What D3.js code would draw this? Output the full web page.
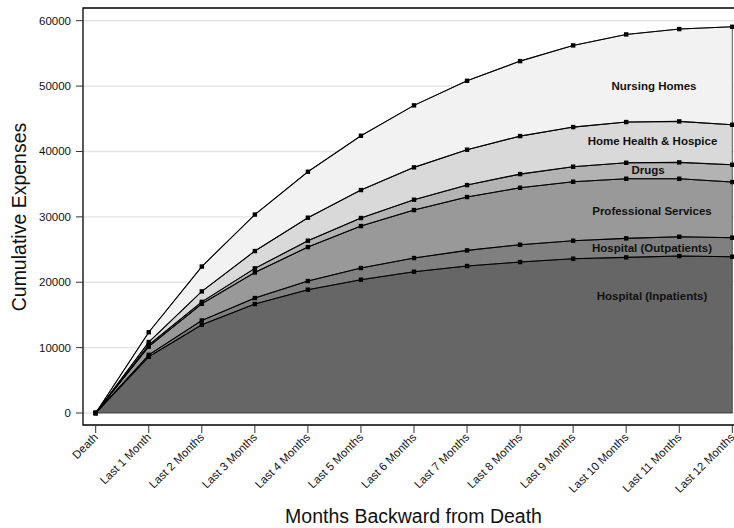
<!DOCTYPE html>
<html>
<head>
<meta charset="utf-8">
<script src="https://cdn.jsdelivr.net/npm/d3@7"></script>
<style>
  html, body { margin: 0; padding: 0; background: #fff; }
  svg { display: block; font-family: "Liberation Sans", Arial, Helvetica, sans-serif; }
</style>
</head>
<body>
<svg id="chart" width="734" height="528"></svg>
<script>
// Months counted backward from death
const months = ["Death", "Last 1 Month", "Last 2 Months", "Last 3 Months", "Last 4 Months",
  "Last 5 Months", "Last 6 Months", "Last 7 Months", "Last 8 Months", "Last 9 Months",
  "Last 10 Months", "Last 11 Months", "Last 12 Months"];

// Expense categories, bottom of the stack first
const categories = ["Hospital (Inpatients)", "Hospital (Outpatients)", "Professional Services",
  "Drugs", "Home Health & Hospice", "Nursing Homes"];

// Cumulative spending per category for each window
const hospitalInpatients  = [0, 8600, 13500, 16670, 18860, 20390, 21610, 22480, 23090, 23600, 23800, 24010, 23900];
const hospitalOutpatients = [0, 300, 650, 910, 1320, 1780, 2090, 2390, 2650, 2750, 2910, 2950, 2910];
const professionalServices = [0, 1250, 2550, 3920, 5200, 6420, 7340, 8160, 8710, 9020, 9120, 8870, 8510];
const drugs               = [0, 250, 300, 620, 970, 1230, 1580, 1830, 2090, 2300, 2440, 2500, 2650];
const homeHealthHospice   = [0, 450, 1600, 2650, 3520, 4280, 4950, 5410, 5810, 6060, 6230, 6270, 6110];
const nursingHomes        = [0, 1500, 3800, 5580, 7030, 8300, 9480, 10540, 11470, 12490, 13400, 14120, 14990];

const yTicks = [0, 10000, 20000, 30000, 40000, 50000, 60000];

const seriesValues = [hospitalInpatients, hospitalOutpatients, professionalServices,
  drugs, homeHealthHospice, nursingHomes];
const fills = ["#666666", "#808080", "#999999", "#b3b3b3", "#d9d9d9", "#f2f2f2"];

// Rows for d3.stack
const rows = months.map((m, i) => {
  const r = { month: m };
  categories.forEach((c, j) => { r[c] = seriesValues[j][i]; });
  return r;
});
const stacked = d3.stack().keys(categories)(rows);

const svg = d3.select("#chart");
const frame = { left: 83, top: 8, right: 740, bottom: 425 };

const x = d3.scalePoint().domain(months).range([95.7, 732.3]);
const y = d3.scaleLinear().domain([0, 60000]).range([413, 20.7]);

// Horizontal gridlines
svg.append("g").selectAll("line").data(yTicks).join("line")
  .attr("x1", frame.left).attr("x2", frame.right)
  .attr("y1", d => y(d)).attr("y2", d => y(d))
  .attr("stroke", "#e3e3e3").attr("stroke-width", 1.4);

// Stacked areas
const area = d3.area()
  .x(d => x(d.data.month))
  .y0(d => y(d[0]))
  .y1(d => y(d[1]));

svg.append("g").selectAll("path").data(stacked).join("path")
  .attr("d", area)
  .attr("fill", (d, i) => fills[i])
  .attr("stroke", "#333")
  .attr("stroke-width", 0.8)
  .attr("stroke-linejoin", "round");

// Top boundary of each stacked layer
const line = d3.line()
  .x(d => x(d.data.month))
  .y(d => y(d[1]));

svg.append("g").selectAll("path").data(stacked).join("path")
  .attr("d", line)
  .attr("fill", "none")
  .attr("stroke", "#000")
  .attr("stroke-width", 1.1);

// Square markers
const markers = svg.append("g");
stacked.forEach(s => {
  markers.selectAll(null).data(s).join("rect")
    .attr("x", d => x(d.data.month) - 2.2)
    .attr("y", d => y(d[1]) - 2.2)
    .attr("width", 4.4).attr("height", 4.4)
    .attr("fill", "#000");
});

// Plot frame (top, left, bottom)
svg.append("path")
  .attr("d", `M${frame.right},${frame.top}H${frame.left}V${frame.bottom}H${frame.right}`)
  .attr("fill", "none").attr("stroke", "#000").attr("stroke-width", 1.3);

// Y axis ticks and labels
const yAxis = svg.append("g");
yAxis.selectAll("line").data(yTicks).join("line")
  .attr("x1", 76).attr("x2", frame.left)
  .attr("y1", d => y(d)).attr("y2", d => y(d))
  .attr("stroke", "#333").attr("stroke-width", 1);
yAxis.selectAll("text").data(yTicks).join("text")
  .attr("x", 71).attr("y", d => y(d))
  .attr("dy", "0.35em")
  .attr("text-anchor", "end")
  .attr("font-size", 11.5)
  .attr("fill", "#111")
  .text(d => d);

// X axis ticks and rotated labels
const xAxis = svg.append("g");
xAxis.selectAll("line").data(months).join("line")
  .attr("x1", d => x(d)).attr("x2", d => x(d))
  .attr("y1", frame.bottom).attr("y2", 433)
  .attr("stroke", "#333").attr("stroke-width", 1);
xAxis.selectAll("text").data(months).join("text")
  .attr("transform", d => `translate(${x(d) + 3},${438}) rotate(-45)`)
  .attr("text-anchor", "end")
  .attr("font-size", 11.5)
  .attr("fill", "#111")
  .text(d => d);

// Axis titles
svg.append("text")
  .attr("transform", "translate(26,217) rotate(-90)")
  .attr("text-anchor", "middle")
  .attr("font-size", 19.5)
  .attr("fill", "#111")
  .text("Cumulative Expenses");

svg.append("text")
  .attr("x", 413.5).attr("y", 523)
  .attr("text-anchor", "middle")
  .attr("font-size", 19.5)
  .attr("fill", "#111")
  .text("Months Backward from Death");

// Category labels inside the layers
const labelPos = [
  { text: "Hospital (Inpatients)", x: 652, y: 296 },
  { text: "Hospital (Outpatients)", x: 652, y: 248 },
  { text: "Professional Services", x: 652, y: 211 },
  { text: "Drugs", x: 648, y: 170 },
  { text: "Home Health & Hospice", x: 652.5, y: 141 },
  { text: "Nursing Homes", x: 654, y: 86 }
];
svg.append("g").selectAll("text").data(labelPos).join("text")
  .attr("x", d => d.x).attr("y", d => d.y)
  .attr("dy", "0.35em")
  .attr("text-anchor", "middle")
  .attr("font-size", 11.5)
  .attr("font-weight", "bold")
  .attr("fill", "#111")
  .text(d => d.text);
</script>
</body>
</html>
